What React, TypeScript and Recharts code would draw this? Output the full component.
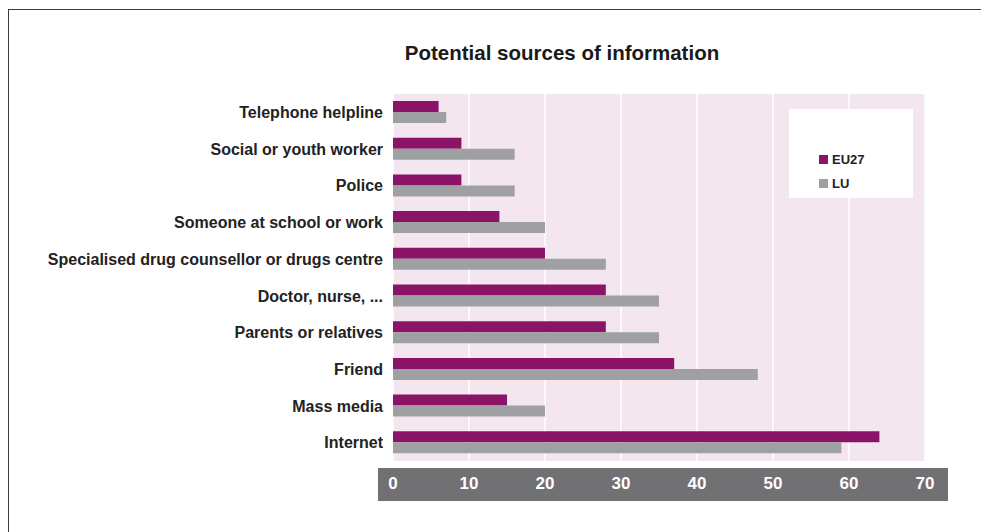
import React from "react";
import {
  BarChart, Bar, XAxis, YAxis, CartesianGrid, Legend,
} from "recharts";

const categories = [
  "Telephone helpline",
  "Social or youth worker",
  "Police",
  "Someone at school or work",
  "Specialised drug counsellor or drugs centre",
  "Doctor, nurse, ...",
  "Parents or relatives",
  "Friend",
  "Mass media",
  "Internet",
];

const eu27 = [6, 9, 9, 14, 20, 28, 28, 37, 15, 64];
const lu = [7, 16, 16, 20, 28, 35, 35, 48, 20, 59];

const xTicks = [0, 10, 20, 30, 40, 50, 60, 70];

const data = categories.map((name, i) => ({ name, EU27: eu27[i], LU: lu[i] }));

const FONT = '"Liberation Sans", Arial, Helvetica, sans-serif';

function XTick(props: any) {
  const { x, y, payload } = props;
  return (
    <text
      x={x}
      y={y}
      dy={28}
      textAnchor="middle"
      fill="#ffffff"
      fontFamily={FONT}
      fontWeight="bold"
      fontSize={17}
    >
      {payload.value}
    </text>
  );
}

function LegendBox(props: any) {
  const items = props.payload || [];
  return (
    <div style={{ paddingLeft: 30, paddingTop: 38 }}>
      {items.map((it: any) => (
        <div
          key={it.value}
          style={{
            display: "flex",
            alignItems: "center",
            height: 24,
            fontFamily: FONT,
            fontWeight: "bold",
            fontSize: 13,
            color: "#222",
          }}
        >
          <span
            style={{
              width: 9,
              height: 9,
              background: it.color,
              marginRight: 4,
              display: "inline-block",
            }}
          />
          {it.value}
        </div>
      ))}
    </div>
  );
}

export default function App() {
  return (
    <div
      style={{
        position: "absolute",
        left: 0,
        top: 0,
        width: 981,
        height: 532,
        overflow: "hidden",
        background: "#fff",
      }}
    >
      <div
        style={{
          position: "absolute",
          left: 8,
          top: 9,
          width: 1000,
          height: 600,
          border: "1.5px solid #3a3a3a",
        }}
      />
      <div
        style={{
          position: "absolute",
          left: 378,
          top: 468,
          width: 570,
          height: 33,
          background: "#717173",
        }}
      />
      <div
        style={{
          position: "absolute",
          left: 562,
          top: 41,
          transform: "translateX(-50%)",
          whiteSpace: "nowrap",
          fontFamily: FONT,
          fontWeight: "bold",
          fontSize: 20.5,
          color: "#1a1a1a",
        }}
      >
        Potential sources of information
      </div>
      <div style={{ position: "absolute", left: 0, top: 0 }}>
        <BarChart
          width={981}
          height={532}
          data={data}
          layout="vertical"
          margin={{ top: 94, right: 56, bottom: 31, left: 0 }}
          barGap={0}
        >
          <CartesianGrid
            horizontal={false}
            stroke="#ffffff"
            strokeWidth={1.5}
            fill="#f3e6ef"
          />
          <XAxis
            type="number"
            domain={[0, 70]}
            ticks={xTicks}
            axisLine={false}
            tickLine={false}
            tickSize={0}
            tickMargin={0}
            height={40}
            tick={<XTick />}
          />
          <YAxis
            type="category"
            dataKey="name"
            width={393}
            axisLine={false}
            tickLine={false}
            tickSize={0}
            tickMargin={10}
            interval={0}
            tick={{
              fill: "#222",
              fontFamily: FONT,
              fontWeight: "bold",
              fontSize: 16,
            }}
          />
          <Legend
            layout="horizontal"
            verticalAlign="middle"
            align="center"
            wrapperStyle={{
              left: 789,
              top: 109,
              width: 124,
              height: 89,
              background: "#ffffff",
            }}
            content={<LegendBox />}
          />
          <Bar dataKey="EU27" fill="#8b1468" barSize={11} isAnimationActive={false} />
          <Bar dataKey="LU" fill="#9fa0a2" barSize={11} isAnimationActive={false} />
        </BarChart>
      </div>
    </div>
  );
}
